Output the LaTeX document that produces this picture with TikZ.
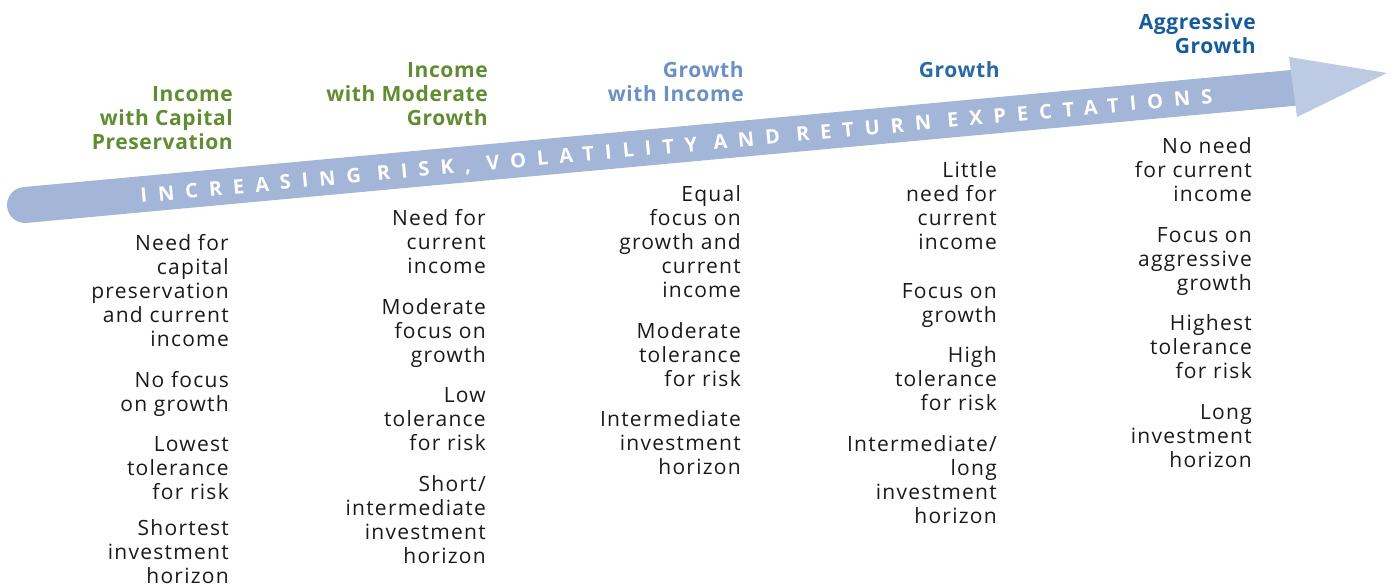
\documentclass[tikz,border=0pt]{standalone}
\usepackage{fontspec}
\setmainfont{Open Sans}
\newfontfamily\bodyf[LetterSpace=6]{Open Sans}
\newfontfamily\titlef[LetterSpace=3]{Open Sans}
\newfontfamily\arrowf[LetterSpace=55]{Open Sans}
\definecolor{shaftc}{RGB}{163,182,215}
\definecolor{headc}{RGB}{189,202,228}
\definecolor{greenc}{RGB}{96,140,50}
\definecolor{lblue}{RGB}{108,143,197}
\definecolor{mblue}{RGB}{42,104,166}
\definecolor{dblue}{RGB}{22,92,154}
\definecolor{bodyc}{RGB}{26,26,26}
\tikzset{
  body/.style={align=right, anchor=base east, inner sep=0pt, text=bodyc,
    font=\bodyf\fontsize{21}{24}\selectfont},
  ttl/.style={align=right, anchor=base east, inner sep=0pt,
    font=\titlef\bfseries\fontsize{21}{24}\selectfont},
  shaft/.style={draw=shaftc, line width=36pt, line cap=round},
  headshape/.style={fill=headc},
  arrowtext/.style={inner sep=0pt, text=white, font=\arrowf\bfseries\fontsize{20}{22}\selectfont}
}
\begin{document}
\begin{tikzpicture}[x=1pt,y=-1pt]
\useasboundingbox (0,0) rectangle (1394,587);
% arrow
\coordinate (s0) at (25,205);
\coordinate (s1) at (1292,88);
\coordinate (h1) at (1289,57);
\coordinate (h2) at (1387,73);
\coordinate (h3) at (1297,117);
\draw[shaft] (s0) -- (s1);
\fill[headshape] (h1) -- (h2) -- (h3) -- cycle;
\node[arrowtext, rotate=5.3, anchor=base] (lab) at (677,153) {INCREASING RISK, VOLATILITY AND RETURN EXPECTATIONS};
% column 1 (anchor = baseline of last line)
\node[ttl, text=greenc] (t1) at (233,149) {Income\\with Capital\\Preservation};
\node[body] (c1a) at (229,346) {Need for\\capital\\preservation\\and current\\income};
\node[body] (c1b) at (229,411) {No focus\\on growth};
\node[body] (c1c) at (229,499) {Lowest\\tolerance\\for risk};
\node[body] (c1d) at (229,583) {Shortest\\investment\\horizon};
% column 2
\node[ttl, text=greenc] (t2) at (488,125) {Income\\with Moderate\\Growth};
\node[body] (c2a) at (486,273) {Need for\\current\\income};
\node[body] (c2b) at (486,362) {Moderate\\focus on\\growth};
\node[body] (c2c) at (486,450) {Low\\tolerance\\for risk};
\node[body] (c2d) at (486,563) {Short/\\intermediate\\investment\\horizon};
% column 3
\node[ttl, text=lblue] (t3) at (744,101) {Growth\\with Income};
\node[body] (c3a) at (741,297) {Equal\\focus on\\growth and\\current\\income};
\node[body] (c3b) at (741,386) {Moderate\\tolerance\\for risk};
\node[body] (c3c) at (741,474) {Intermediate\\investment\\horizon};
% column 4
\node[ttl, text=mblue] (t4) at (1000,77) {Growth};
\node[body] (c4a) at (997,249) {Little\\need for\\current\\income};
\node[body] (c4b) at (997,322) {Focus on\\growth};
\node[body] (c4c) at (997,410) {High\\tolerance\\for risk};
\node[body] (c4d) at (997,523) {Intermediate/\\long\\investment\\horizon};
% column 5
\node[ttl, text=dblue] (t5) at (1256,53) {Aggressive\\Growth};
\node[body] (c5a) at (1252,201) {No need\\for current\\income};
\node[body] (c5b) at (1252,290) {Focus on\\aggressive\\growth};
\node[body] (c5c) at (1252,378) {Highest\\tolerance\\for risk};
\node[body] (c5d) at (1252,467) {Long\\investment\\horizon};
\end{tikzpicture}
\end{document}
